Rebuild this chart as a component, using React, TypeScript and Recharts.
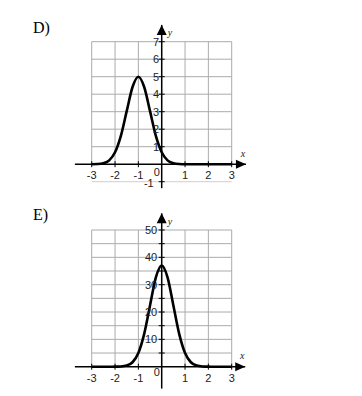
import { LineChart, Line, XAxis, YAxis, ReferenceLine, ReferenceDot } from "recharts";

// sample positions along x, read at quarter steps
const xs = [-3, -2.75, -2.5, -2.25, -2, -1.75, -1.5, -1.25, -1, -0.75, -0.5, -0.25, 0, 0.25, 0.5, 0.75, 1, 1.25, 1.5, 1.75, 2, 2.25, 2.5, 2.75, 3];
const curveD = [0, 0.01, 0.06, 0.22, 0.68, 1.62, 3.03, 4.41, 5, 4.41, 3.03, 1.62, 0.68, 0.22, 0.06, 0.01, 0, 0, 0, 0, 0, 0, 0, 0, 0];
const curveE = [0, 0, 0, 0, 0.01, 0.08, 0.41, 1.63, 5, 12, 22.4, 32.7, 37, 32.7, 22.4, 12, 5, 1.63, 0.41, 0.08, 0.01, 0, 0, 0, 0];

const xTicks = [-3, -2, -1, 0, 1, 2, 3];
const yGridD = [1, 2, 3, 4, 5, 6, 7];
const yTicksD = [-1, 1, 2, 3, 4, 5, 6, 7];
const yLabelsD = [-1, 1, 2, 3, 4, 5, 6, 7];
const yGridE = [5, 10, 15, 20, 25, 30, 35, 40, 45, 50];
const yTicksE = [5, 10, 15, 20, 25, 30, 35, 40, 45, 50];
const yLabelsE = [10, 20, 30, 40, 50];

const GRID = "#ababab";
const LABEL_FONT = { fontFamily: "'Liberation Sans', Arial, sans-serif", fontSize: 11, fill: "#222" };
const AXIS_NAME_FONT = { fontFamily: "'Liberation Serif', 'Times New Roman', serif", fontSize: 10, fontStyle: "italic", fill: "#222" };

const label = (s: string, dx: number, dy: number, anchor: "start" | "middle" | "end", font: any = LABEL_FONT) =>
  (p: any) => (
    <text x={p.cx + dx} y={p.cy + dy} textAnchor={anchor} dominantBaseline="central" {...font}>
      {s}
    </text>
  );

const hTick = (p: any) => <line x1={p.cx - 3} x2={p.cx + 3} y1={p.cy} y2={p.cy} stroke="#000" strokeWidth={1} />;
const vTick = (p: any) => <line x1={p.cx} x2={p.cx} y1={p.cy - 3} y2={p.cy + 3} stroke="#000" strokeWidth={1} />;
const arrowRight = (p: any) => <polygon points={`${p.cx},${p.cy} ${p.cx - 10},${p.cy - 4.5} ${p.cx - 10},${p.cy + 4.5}`} fill="#000" />;
const arrowUp = (p: any) => <polygon points={`${p.cx},${p.cy} ${p.cx - 5},${p.cy + 10} ${p.cx + 5},${p.cy + 10}`} fill="#000" />;

interface PanelProps {
  values: number[];
  height: number;
  margin: { top: number; right: number; bottom: number; left: number };
  yDomain: [number, number];
  yTop: number;
  yGrid: number[];
  yTicks: number[];
  yLabels: number[];
  xAxisEnds: [number, number];
  yAxisEnds: [number, number];
  labelGap: number;
  zeroDy: number;
  bottomLine?: number;
}

function Panel(props: PanelProps) {
  const { values, height, margin, yDomain, yTop, yGrid, yTicks, yLabels, xAxisEnds, yAxisEnds, labelGap, zeroDy, bottomLine } = props;
  const data = xs.map((x, i) => ({ x, y: values[i] }));
  return (
    <LineChart width={362} height={height} data={data} margin={margin}>
      <XAxis type="number" dataKey="x" domain={[-3, 3]} hide />
      <YAxis type="number" domain={yDomain} hide />

      {xTicks.map((t) => (
        <ReferenceLine key={`gx${t}`} segment={[{ x: t, y: 0 }, { x: t, y: yTop }]} stroke={GRID} strokeWidth={1} ifOverflow="visible" />
      ))}
      {yGrid.map((t) => (
        <ReferenceLine key={`gy${t}`} segment={[{ x: -3, y: t }, { x: 3, y: t }]} stroke={GRID} strokeWidth={1} ifOverflow="visible" />
      ))}
      {bottomLine !== undefined && (
        <ReferenceLine segment={[{ x: -3, y: bottomLine }, { x: 3, y: bottomLine }]} stroke="#cfcfcf" strokeWidth={1} ifOverflow="visible" />
      )}

      <Line type="monotone" dataKey="y" stroke="#000" strokeWidth={2.6} dot={false} isAnimationActive={false} />

      <ReferenceLine segment={[{ x: xAxisEnds[0], y: 0 }, { x: xAxisEnds[1], y: 0 }]} stroke="#000" strokeWidth={1.5} ifOverflow="visible" />
      <ReferenceLine segment={[{ x: 0, y: yAxisEnds[0] }, { x: 0, y: yAxisEnds[1] }]} stroke="#000" strokeWidth={1.5} ifOverflow="visible" />
      <ReferenceDot x={xAxisEnds[1]} y={0} shape={arrowRight} ifOverflow="visible" />
      <ReferenceDot x={0} y={yAxisEnds[1]} shape={arrowUp} ifOverflow="visible" />
      <ReferenceDot x={xAxisEnds[1]} y={0} shape={label("x", -3, -11, "middle", AXIS_NAME_FONT)} ifOverflow="visible" />
      <ReferenceDot x={0} y={yAxisEnds[1]} shape={label("y", 6, 8, "start", AXIS_NAME_FONT)} ifOverflow="visible" />

      {xTicks.filter((t) => t !== 0).map((t) => (
        <ReferenceDot key={`tx${t}`} x={t} y={0} shape={vTick} ifOverflow="visible" />
      ))}
      {yTicks.map((t) => (
        <ReferenceDot key={`ty${t}`} x={0} y={t} shape={hTick} ifOverflow="visible" />
      ))}
      {xTicks.map((t) => (
        <ReferenceDot
          key={`lx${t}`}
          x={t}
          y={0}
          shape={t === 0 ? label("0", -5, zeroDy, "middle") : label(String(t), 0, 11, "middle")}
          ifOverflow="visible"
        />
      ))}
      {yLabels.map((t) => (
        <ReferenceDot
          key={`ly${t}`}
          x={0}
          y={t}
          shape={t < 0 ? label(String(t), -8, 1.5, "end") : label(String(t), labelGap, 0, "end")}
          ifOverflow="visible"
        />
      ))}
    </LineChart>
  );
}

const letterStyle: React.CSSProperties = {
  position: "absolute",
  left: 33,
  fontFamily: "'Liberation Serif', 'Times New Roman', serif",
  fontSize: 16,
  lineHeight: "16px",
  color: "#000",
};

export default function App() {
  return (
    <div style={{ position: "absolute", left: 0, top: 0, width: 362, height: 396, background: "#fff", overflow: "hidden" }}>
      <div style={{ ...letterStyle, top: 20 }}>D)</div>
      <div style={{ ...letterStyle, top: 207 }}>E)</div>
      <div style={{ position: "absolute", left: 0, top: 0 }}>
        <Panel
          values={curveD}
          height={200}
          margin={{ top: 41.7, right: 130.3, bottom: 18.3, left: 91.7 }}
          yDomain={[-1, 7]}
          yTop={7}
          yGrid={yGridD}
          yTicks={yTicksD}
          yLabels={yLabelsD}
          xAxisEnds={[-3.72, 3.61]}
          yAxisEnds={[-1.37, 7.96]}
          labelGap={-2.5}
          zeroDy={8}
          bottomLine={-1}
        />
      </div>
      <div style={{ position: "absolute", left: 0, top: 200 }}>
        <Panel
          values={curveE}
          height={196}
          margin={{ top: 30, right: 130.3, bottom: 29.3, left: 91.7 }}
          yDomain={[0, 50]}
          yTop={50}
          yGrid={yGridE}
          yTicks={yTicksE}
          yLabels={yLabelsE}
          xAxisEnds={[-3.72, 3.58]}
          yAxisEnds={[-8, 56.1]}
          labelGap={-4.5}
          zeroDy={5}
        />
      </div>
    </div>
  );
}
